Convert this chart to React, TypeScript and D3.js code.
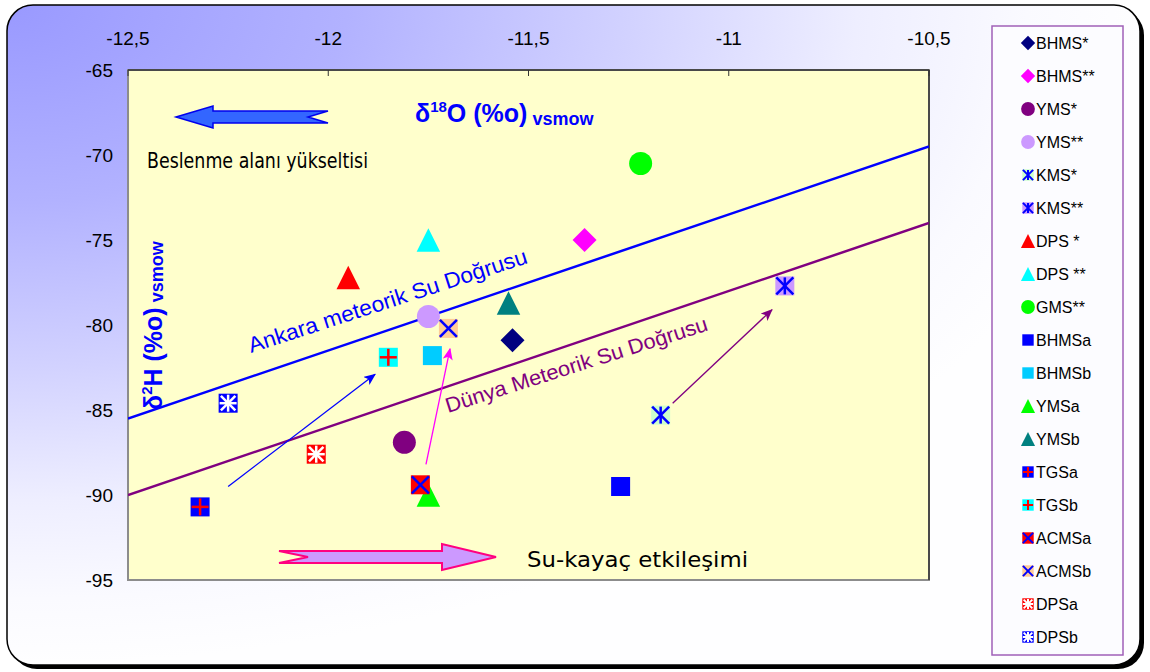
import React from "react";
import * as d3 from "d3";

// Axis ticks
const xTicks = [-12.5, -12, -11.5, -11, -10.5];
const yTicks = [-65, -70, -75, -80, -85, -90, -95];

// Samples: δ18O and δ2H (‰ VSMOW)
const sampleNames = [
  "BHMS*", "BHMS**", "YMS*", "YMS**", "KMS*", "KMS**", "DPS *", "DPS **", "GMS**",
  "BHMSa", "BHMSb", "YMSa", "YMSb", "TGSa", "TGSb", "ACMSa", "ACMSb", "DPSa", "DPSb",
];
const d18O = [
  -11.54, -11.36, -11.81, -11.75, -11.17, -10.86, -11.95, -11.75, -11.22,
  -11.27, -11.74, -11.75, -11.55, -12.32, -11.85, -11.77, -11.70, -12.03, -12.25,
];
const d2H = [
  -80.9, -75.0, -86.9, -79.5, -85.3, -77.7, -77.2, -75.0, -70.5,
  -89.5, -81.8, -90.0, -78.7, -90.7, -81.9, -89.4, -80.2, -87.6, -84.6,
];

// Meteoric water lines: δ2H = slope·δ18O + intercept
const gmwlSlope = 8;
const gmwlIntercept = 10;
const ankaraSlope = 8;
const ankaraIntercept = 14.5;

// Evolution arrows (δ18O, δ2H)
const arrowFrom = [[-12.25, -89.5], [-11.756, -88.2], [-11.14, -84.6]];
const arrowTo = [[-11.883, -82.9], [-11.696, -81.4], [-10.892, -79.1]];
const arrowColors = ["#0000FF", "#FF00FF", "#800080"];

type Sym = { shape: string; fill: string; mark?: string; markColor?: string };
const symbols: Record<string, Sym> = {
  "BHMS*": { shape: "diamond", fill: "#000080" },
  "BHMS**": { shape: "diamond", fill: "#FF00FF" },
  "YMS*": { shape: "circle", fill: "#800080" },
  "YMS**": { shape: "circle", fill: "#CC99FF" },
  "KMS*": { shape: "square", fill: "#CCFFCC", mark: "asterisk", markColor: "#0000FF" },
  "KMS**": { shape: "square", fill: "#CC99FF", mark: "asterisk", markColor: "#0000FF" },
  "DPS *": { shape: "triangle", fill: "#FF0000" },
  "DPS **": { shape: "triangle", fill: "#00FFFF" },
  "GMS**": { shape: "circle", fill: "#00FF00" },
  "BHMSa": { shape: "square", fill: "#0000FF" },
  "BHMSb": { shape: "square", fill: "#00CCFF" },
  "YMSa": { shape: "triangle", fill: "#00FF00" },
  "YMSb": { shape: "triangle", fill: "#008080" },
  "TGSa": { shape: "square", fill: "#0000FF", mark: "plus", markColor: "#FF0000" },
  "TGSb": { shape: "square", fill: "#00FFFF", mark: "plus", markColor: "#FF0000" },
  "ACMSa": { shape: "square", fill: "#FF0000", mark: "cross", markColor: "#0000FF" },
  "ACMSb": { shape: "square", fill: "#FFCC99", mark: "cross", markColor: "#0000FF" },
  "DPSa": { shape: "square", fill: "#FF0000", mark: "star", markColor: "#FFFFFF" },
  "DPSb": { shape: "square", fill: "#0000FF", mark: "star", markColor: "#FFFFFF" },
};

const W = 1150;
const H = 672;
const plot = { left: 128, right: 929, top: 70, bottom: 580 };
const FONT = "'Liberation Sans', Arial, sans-serif";
const HAND = "'Comic Sans MS', 'DejaVu Sans', sans-serif";

function Marker({ cx, cy, sym, k }: { cx: number; cy: number; sym: Sym; k: number }) {
  const sq = 19 * k;
  const h = sq / 2;
  const lw = k < 1 ? 2 : 2.5;
  let body: React.ReactNode = null;
  if (sym.shape === "square") {
    body = <rect x={cx - h} y={cy - h} width={sq} height={sq} fill={sym.fill} />;
  } else if (sym.shape === "circle") {
    body = <circle cx={cx} cy={cy} r={11.5 * k} fill={sym.fill} />;
  } else if (sym.shape === "triangle") {
    const s = 23.5 * k;
    body = (
      <path
        d={`M${cx},${cy - s / 2}L${cx + s / 2},${cy + s / 2}L${cx - s / 2},${cy + s / 2}Z`}
        fill={sym.fill}
      />
    );
  } else if (sym.shape === "diamond") {
    const s = 12 * k;
    body = (
      <path d={`M${cx},${cy - s}L${cx + s},${cy}L${cx},${cy + s}L${cx - s},${cy}Z`} fill={sym.fill} />
    );
  }
  const segs: number[][] = [];
  const a = h - 1 * k;
  if (sym.mark === "plus" || sym.mark === "star") {
    segs.push([cx - a, cy, cx + a, cy]);
    segs.push([cx, cy - a, cx, cy + a]);
  }
  if (sym.mark === "cross" || sym.mark === "star" || sym.mark === "asterisk") {
    const b = sym.mark === "star" ? a * 0.85 : a;
    segs.push([cx - b, cy - b, cx + b, cy + b]);
    segs.push([cx - b, cy + b, cx + b, cy - b]);
  }
  if (sym.mark === "asterisk") segs.push([cx, cy - a, cx, cy + a]);
  return (
    <g>
      {body}
      {segs.map((s, i) => (
        <line key={i} x1={s[0]} y1={s[1]} x2={s[2]} y2={s[3]} stroke={sym.markColor} strokeWidth={lw} />
      ))}
    </g>
  );
}

export default function App() {
  const x = d3.scaleLinear().domain([-12.5, -10.5]).range([plot.left, plot.right]);
  const y = d3.scaleLinear().domain([-65, -95]).range([plot.top, plot.bottom]);
  const fmt = (v: number) => String(v).replace(".", ",");

  const wl = (slope: number, icpt: number) =>
    d3
      .line<number>()
      .x((d) => x(d))
      .y((d) => y(slope * d + icpt))(x.domain());

  const legendX = 1028;
  const legendY0 = 43;
  const legendStep = 33;

  return (
    <svg
      width={W}
      height={H}
      style={{ position: "absolute", left: 0, top: 0, display: "block", background: "#fff" }}
    >
      <defs>
        <radialGradient id="frameGrad" cx="0" cy="0" r="1" fx="0" fy="0">
          <stop offset="0" stopColor="#9999FF" />
          <stop offset="0.3" stopColor="#B2B2FF" />
          <stop offset="0.55" stopColor="#D2D2FF" />
          <stop offset="0.75" stopColor="#EEEEFF" />
          <stop offset="0.9" stopColor="#FAFAFF" />
          <stop offset="1" stopColor="#FEFEFF" />
        </radialGradient>
        {arrowColors.map((c, i) => (
          <marker
            key={i}
            id={`ah${i}`}
            viewBox="0 0 12 10"
            refX="11"
            refY="5"
            markerWidth="12"
            markerHeight="10"
            markerUnits="userSpaceOnUse"
            orient="auto"
          >
            <path d="M0,0L12,5L0,10L3,5Z" fill={c} />
          </marker>
        ))}
        <clipPath id="plotClip">
          <rect x={plot.left} y={plot.top} width={plot.right - plot.left} height={plot.bottom - plot.top} />
        </clipPath>
      </defs>

      {/* chart frame with drop shadow */}
      <rect x={11} y={9} width={1133} height={660} rx={26} fill="#000" />
      <rect x={7} y={5} width={1133} height={660} rx={26} fill="url(#frameGrad)" stroke="#000" strokeWidth={1.5} />

      {/* plot area */}
      <rect
        x={plot.left}
        y={plot.top}
        width={plot.right - plot.left}
        height={plot.bottom - plot.top}
        fill="#FFFFCC"
        stroke="#8C8C8C"
        strokeWidth={2}
      />
      <line x1={plot.left} y1={plot.top} x2={plot.right} y2={plot.top} stroke="#333" strokeWidth={1.5} />
      <line x1={plot.right} y1={plot.top} x2={plot.right} y2={plot.bottom} stroke="#333" strokeWidth={1.5} />

      {/* x axis (top) */}
      {xTicks.map((t) => (
        <g key={t}>
          <line x1={x(t)} y1={plot.top} x2={x(t)} y2={plot.top + 6} stroke="#333" strokeWidth={1} />
          <text x={x(t)} y={45} textAnchor="middle" fontFamily={FONT} fontSize={19} fill="#000">
            {fmt(t)}
          </text>
        </g>
      ))}
      {/* y axis */}
      {yTicks.map((t) => (
        <text key={t} x={113} y={y(t) + 6.5} textAnchor="end" fontFamily={FONT} fontSize={19} fill="#000">
          {t}
        </text>
      ))}

      {/* meteoric water lines */}
      <g clipPath="url(#plotClip)">
        <path d={wl(ankaraSlope, ankaraIntercept) || ""} stroke="#0000FF" strokeWidth={2.5} fill="none" />
        <path d={wl(gmwlSlope, gmwlIntercept) || ""} stroke="#800080" strokeWidth={2.5} fill="none" />
      </g>
      <text
        transform="translate(251,353) rotate(-18)"
        fontFamily={FONT}
        fontSize={22}
        fill="#0000FF"
        textLength={292}
        lengthAdjust="spacingAndGlyphs"
      >
        Ankara meteorik Su Doğrusu
      </text>
      <text
        transform="translate(448,413) rotate(-17.6)"
        fontFamily={FONT}
        fontSize={21}
        fill="#800080"
        textLength={274}
        lengthAdjust="spacingAndGlyphs"
      >
        Dünya Meteorik Su Doğrusu
      </text>

      {/* evolution arrows */}
      {arrowFrom.map((p, i) => (
        <line
          key={i}
          x1={x(p[0])}
          y1={y(p[1])}
          x2={x(arrowTo[i][0])}
          y2={y(arrowTo[i][1])}
          stroke={arrowColors[i]}
          strokeWidth={1.3}
          markerEnd={`url(#ah${i})`}
        />
      ))}

      {/* samples */}
      {sampleNames.map((n, i) => (
        <Marker key={n} cx={x(d18O[i])} cy={y(d2H[i])} sym={symbols[n]} k={1} />
      ))}

      {/* block arrows */}
      <path
        d="M176,117L213,106L213,111L328,111L308,117L328,123L213,123L213,128Z"
        fill="#3366FF"
        stroke="#0000EE"
        strokeWidth={1.5}
        strokeLinejoin="miter"
      />
      <path
        d="M279,551L442,551L442,544L496,557L442,570L442,563L279,563L308,557Z"
        fill="#CC99FF"
        stroke="#FF0080"
        strokeWidth={2}
      />

      {/* annotations */}
      <text x={147} y={168} fontFamily={HAND} fontSize={22} fill="#000" textLength={221} lengthAdjust="spacingAndGlyphs">
        Beslenme alanı yükseltisi
      </text>
      <text x={527} y={567} fontFamily={HAND} fontSize={22} fill="#000" textLength={221} lengthAdjust="spacingAndGlyphs">
        Su-kayaç etkileşimi
      </text>

      {/* axis titles */}
      <text x={415} y={122} fontFamily={FONT} fontWeight="bold" fill="#0000FF" fontSize={25}>
        δ
        <tspan fontSize={15} dy={-10}>18</tspan>
        <tspan dy={10}>O (%o)</tspan>
        <tspan fontSize={18} dy={3}> vsmow</tspan>
      </text>
      <text
        transform="translate(162,410) rotate(-90)"
        fontFamily={FONT}
        fontWeight="bold"
        fill="#0000FF"
        fontSize={25}
      >
        δ
        <tspan fontSize={15} dy={-10}>2</tspan>
        <tspan dy={10}>H (%o)</tspan>
        <tspan fontSize={18} dy={1}> vsmow</tspan>
      </text>

      {/* legend */}
      <rect x={992} y={26} width={131} height={629} fill="#FCFCFF" stroke="#A060B8" strokeWidth={1.5} />
      {sampleNames.map((n, i) => {
        const cy = legendY0 + i * legendStep;
        return (
          <g key={n}>
            <Marker cx={legendX} cy={cy} sym={symbols[n]} k={0.6} />
            <text x={1036} y={cy + 5.5} fontFamily={FONT} fontSize={16} fill="#000">
              {n}
            </text>
          </g>
        );
      })}
    </svg>
  );
}
